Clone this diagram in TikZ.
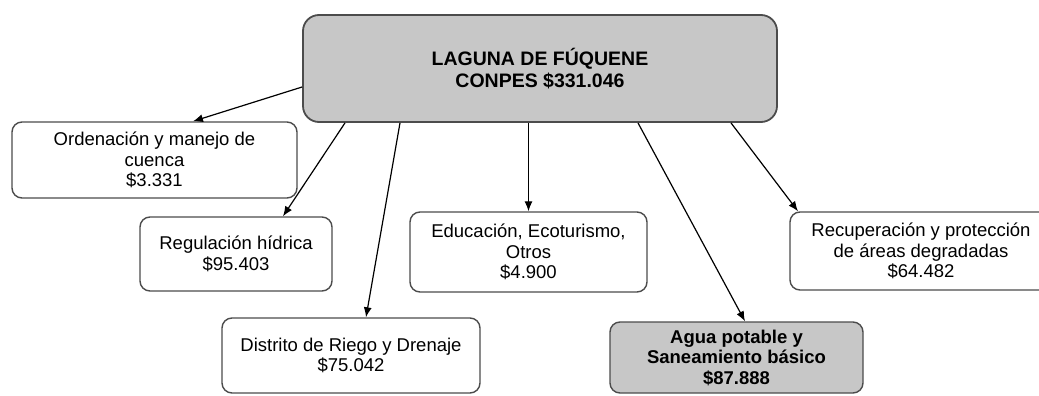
\documentclass[tikz,border=0pt]{standalone}
\usepackage{fontspec}
\setmainfont{Liberation Sans}
\usepackage{tikz}
\usetikzlibrary{arrows.meta}

\begin{document}
\begin{tikzpicture}[x=1pt,y=-1pt,
  box/.style={shape=rectangle,rounded corners=10pt,draw=black!70,line width=1.4pt,fill=white,align=center,inner sep=0pt,font=\fontsize{18.5}{20.5}\selectfont},
  greybox/.style={box,fill=black!22,font=\fontsize{18.5}{20.5}\selectfont\bfseries},
  arr/.style={-{Latex[length=10pt,width=8pt]},line width=1.2pt,black}]
\path[use as bounding box,clip] (0,0) rectangle (1039,396);
\node[greybox,minimum width=474pt,minimum height=107pt,rounded corners=16pt,line width=1.8pt,font=\fontsize{19.5}{21.5}\selectfont\bfseries] (top) at (540,68.5) {LAGUNA DE FÚQUENE\\CONPES \$331.046};
\node[box,minimum width=285pt,minimum height=76pt] (ord) at (154.5,160) {Ordenación y manejo de\\cuenca\\\$3.331};
\node[box,minimum width=192pt,minimum height=74pt] (reg) at (236,254) {Regulación hídrica\\\$95.403};
\node[box,minimum width=258pt,minimum height=75pt] (dis) at (351,355.5) {Distrito de Riego y Drenaje\\\$75.042};
\node[box,minimum width=237pt,minimum height=80pt] (edu) at (528.5,252) {Educación, Ecoturismo,\\Otros\\\$4.900};
\node[greybox,minimum width=253pt,minimum height=71pt] (agu) at (736.5,357.5) {Agua potable y\\Saneamiento básico\\\$87.888};
\node[box,minimum width=262pt,minimum height=78pt] (rec) at (921,251) {Recuperación y protección\\de áreas degradadas\\\$64.482};
\path [arr] ([yshift=-18.5pt]top.west) edge ([xshift=38.5pt]ord.north);
\path [arr] ([xshift=-195pt]top.south) edge ([xshift=47pt]reg.north);
\path [arr] ([xshift=-140pt]top.south) edge ([xshift=15pt]dis.north);
\path [arr] (top.south -| edu.north) edge (edu.north);
\path [arr] ([xshift=98pt]top.south) edge ([xshift=8.5pt]agu.north);
\path [arr] ([xshift=191pt]top.south) edge ([xshift=-123pt]rec.north);
\end{tikzpicture}
\end{document}
